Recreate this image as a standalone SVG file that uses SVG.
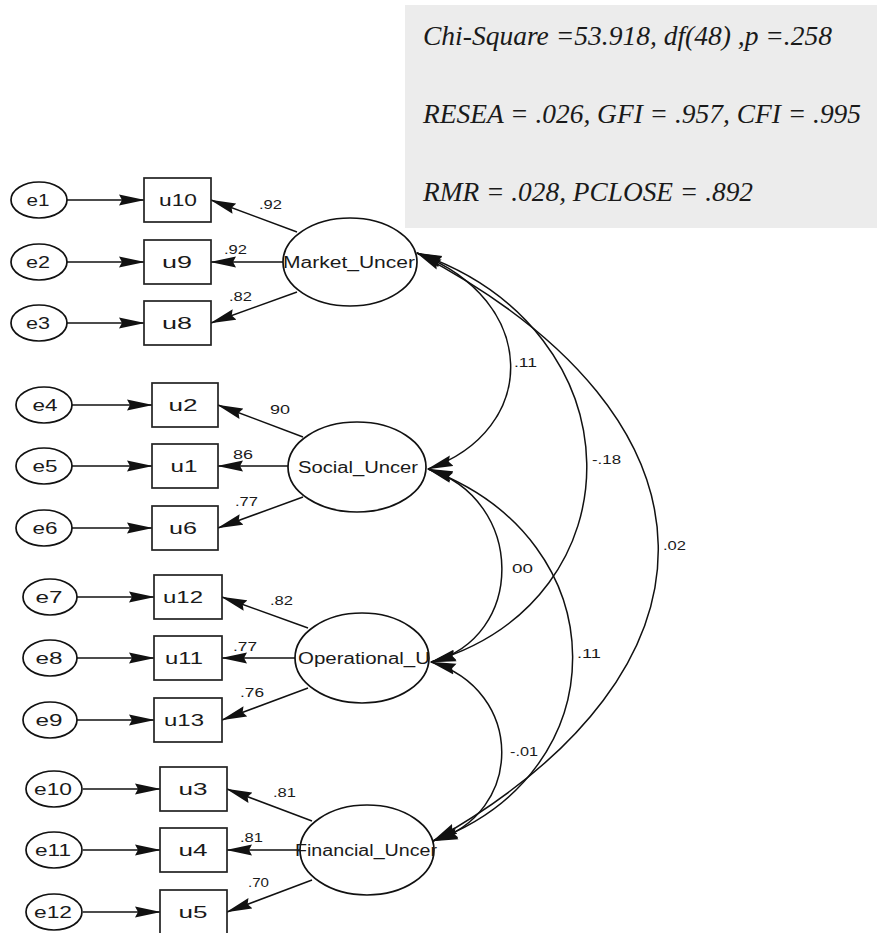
<svg xmlns="http://www.w3.org/2000/svg" width="877" height="933" viewBox="0 0 877 933">
  <style>
    .lat { fill: #ffffff; stroke: #111; stroke-width: 1.7; }
    .err { fill: #ffffff; stroke: #111; stroke-width: 1.7; }
    .obs { fill: #ffffff; stroke: #222; stroke-width: 1.7; }
    .lbl { font-family: "Liberation Sans", Arial, sans-serif; font-size: 17px; fill: #1a1a1a; text-anchor: middle; }
    .lat-lbl { font-family: "Liberation Sans", Arial, sans-serif; font-size: 16px; fill: #1a1a1a; text-anchor: middle; }
    .coef { font-family: "Liberation Sans", Arial, sans-serif; font-size: 13px; fill: #1a1a1a; }
    .fit { font-family: "Liberation Serif", "Times New Roman", serif; font-style: italic; font-size: 28px; fill: #1a1a1a; }
    .path { fill: none; stroke: #111; stroke-width: 1.5; marker-end: url(#ah); }
    .cov { fill: none; stroke: #111; stroke-width: 1.5; marker-start: url(#ah); marker-end: url(#ah); }
  </style>
  <defs>
    <marker id="ah" viewBox="0 0 26 12" refX="25" refY="6" markerWidth="26" markerHeight="12" markerUnits="userSpaceOnUse" orient="auto-start-reverse">
      <path d="M0,0.5 L26,6 L0,11.5 L3,6 z" fill="#111"/>
    </marker>
  </defs>

  <rect width="877" height="933" fill="#ffffff"/>

  <!-- fit statistics panel -->
  <g id="fit-panel">
    <rect x="405" y="5" width="472" height="223" fill="#ececec"/>
    <text class="fit" x="423" y="45" textLength="409" lengthAdjust="spacingAndGlyphs">Chi-Square =53.918, df(48) ,p =.258</text>
    <text class="fit" x="423" y="123" textLength="438" lengthAdjust="spacingAndGlyphs">RESEA = .026, GFI = .957, CFI = .995</text>
    <text class="fit" x="423" y="201" textLength="330" lengthAdjust="spacingAndGlyphs">RMR = .028, PCLOSE = .892</text>
  </g>

  <!-- connectors: error terms, loadings, covariances -->
  <g id="connectors">
    <!-- error -> indicator -->
    <line class="path" x1="67" y1="200" x2="144" y2="200"/>
    <line class="path" x1="67" y1="262" x2="144" y2="262"/>
    <line class="path" x1="67" y1="323" x2="144" y2="323"/>
    <line class="path" x1="72" y1="405" x2="152" y2="405"/>
    <line class="path" x1="72" y1="466" x2="152" y2="466"/>
    <line class="path" x1="72" y1="528" x2="152" y2="528"/>
    <line class="path" x1="77" y1="597" x2="154" y2="597"/>
    <line class="path" x1="77" y1="658" x2="154" y2="658"/>
    <line class="path" x1="77" y1="720" x2="154" y2="720"/>
    <line class="path" x1="83" y1="789" x2="160" y2="789"/>
    <line class="path" x1="83" y1="850" x2="160" y2="850"/>
    <line class="path" x1="83" y1="912" x2="160" y2="912"/>

    <!-- latent -> indicator -->
    <line class="path" x1="297" y1="232" x2="211" y2="200"/>
    <line class="path" x1="283" y1="262" x2="211" y2="262"/>
    <line class="path" x1="297" y1="292" x2="211" y2="323"/>
    <line class="path" x1="303" y1="437" x2="218" y2="405"/>
    <line class="path" x1="288" y1="466" x2="218" y2="466"/>
    <line class="path" x1="303" y1="497" x2="218" y2="528"/>
    <line class="path" x1="308" y1="628" x2="222" y2="597"/>
    <line class="path" x1="295" y1="658" x2="222" y2="658"/>
    <line class="path" x1="308" y1="688" x2="222" y2="720"/>
    <line class="path" x1="312" y1="821" x2="227" y2="789"/>
    <line class="path" x1="300" y1="850" x2="227" y2="850"/>
    <line class="path" x1="312" y1="880" x2="227" y2="912"/>

    <!-- covariances between latent factors -->
    <path class="cov" d="M417,253 C540,300 540,430 428,469"/>
    <path class="cov" d="M417,253 C641,330 641,600 431,662"/>
    <path class="cov" d="M417,253 C736,420 736,670 433,841"/>
    <path class="cov" d="M428,469 C526,500 526,638 431,662"/>
    <path class="cov" d="M428,469 C620,540 620,773 433,841"/>
    <path class="cov" d="M431,662 C525,690 525,814 433,841"/>
  </g>

  <!-- coefficient labels -->
  <g id="coefficients">
    <text class="coef" x="259" y="209" textLength="23" lengthAdjust="spacingAndGlyphs">.92</text>
    <text class="coef" x="224" y="254" textLength="23" lengthAdjust="spacingAndGlyphs">.92</text>
    <text class="coef" x="229" y="301" textLength="23" lengthAdjust="spacingAndGlyphs">.82</text>
    <text class="coef" x="270" y="414" textLength="20" lengthAdjust="spacingAndGlyphs">90</text>
    <text class="coef" x="233" y="459" textLength="20" lengthAdjust="spacingAndGlyphs">86</text>
    <text class="coef" x="235" y="506" textLength="23" lengthAdjust="spacingAndGlyphs">.77</text>
    <text class="coef" x="270" y="605" textLength="23" lengthAdjust="spacingAndGlyphs">.82</text>
    <text class="coef" x="233" y="651" textLength="24" lengthAdjust="spacingAndGlyphs">.77</text>
    <text class="coef" x="240" y="697" textLength="24" lengthAdjust="spacingAndGlyphs">.76</text>
    <text class="coef" x="273" y="797" textLength="23" lengthAdjust="spacingAndGlyphs">.81</text>
    <text class="coef" x="240" y="842" textLength="23" lengthAdjust="spacingAndGlyphs">.81</text>
    <text class="coef" x="248" y="887" textLength="21" lengthAdjust="spacingAndGlyphs">.70</text>
    <text class="coef" x="514" y="367" textLength="23" lengthAdjust="spacingAndGlyphs">.11</text>
    <text class="coef" x="592" y="464" textLength="29" lengthAdjust="spacingAndGlyphs">-.18</text>
    <text class="coef" x="663" y="550" textLength="23" lengthAdjust="spacingAndGlyphs">.02</text>
    <text class="coef" x="512" y="573" textLength="21" lengthAdjust="spacingAndGlyphs">00</text>
    <text class="coef" x="577" y="658" textLength="24" lengthAdjust="spacingAndGlyphs">.11</text>
    <text class="coef" x="510" y="756" textLength="28" lengthAdjust="spacingAndGlyphs">-.01</text>
  </g>

  <!-- Market_Uncer block -->
  <g id="e1"><ellipse class="err" cx="39" cy="200" rx="28" ry="18"/><text class="lbl" x="38" y="206" textLength="23" lengthAdjust="spacingAndGlyphs">e1</text></g>
  <g id="e2"><ellipse class="err" cx="39" cy="262" rx="28" ry="18"/><text class="lbl" x="38" y="268" textLength="24" lengthAdjust="spacingAndGlyphs">e2</text></g>
  <g id="e3"><ellipse class="err" cx="39" cy="323" rx="28" ry="18"/><text class="lbl" x="38" y="329" textLength="24" lengthAdjust="spacingAndGlyphs">e3</text></g>
  <g id="u10"><rect class="obs" x="144" y="178" width="67" height="44"/><text class="lbl" x="178" y="206" textLength="38" lengthAdjust="spacingAndGlyphs">u10</text></g>
  <g id="u9"><rect class="obs" x="144" y="240" width="67" height="44"/><text class="lbl" x="177" y="268" textLength="30" lengthAdjust="spacingAndGlyphs">u9</text></g>
  <g id="u8"><rect class="obs" x="144" y="301" width="67" height="44"/><text class="lbl" x="177" y="329" textLength="30" lengthAdjust="spacingAndGlyphs">u8</text></g>
  <g id="Market_Uncer"><ellipse class="lat" cx="350" cy="262" rx="67" ry="44"/><text class="lat-lbl" x="349" y="268" textLength="132" lengthAdjust="spacingAndGlyphs">Market_Uncer</text></g>

  <!-- Social_Uncer block -->
  <g id="e4"><ellipse class="err" cx="44" cy="405" rx="28" ry="18"/><text class="lbl" x="45" y="411" textLength="25" lengthAdjust="spacingAndGlyphs">e4</text></g>
  <g id="e5"><ellipse class="err" cx="44" cy="466" rx="28" ry="18"/><text class="lbl" x="45" y="472" textLength="25" lengthAdjust="spacingAndGlyphs">e5</text></g>
  <g id="e6"><ellipse class="err" cx="44" cy="528" rx="28" ry="18"/><text class="lbl" x="45" y="534" textLength="25" lengthAdjust="spacingAndGlyphs">e6</text></g>
  <g id="u2"><rect class="obs" x="152" y="383" width="66" height="44"/><text class="lbl" x="183" y="411" textLength="29" lengthAdjust="spacingAndGlyphs">u2</text></g>
  <g id="u1"><rect class="obs" x="152" y="444" width="66" height="44"/><text class="lbl" x="184" y="472" textLength="27" lengthAdjust="spacingAndGlyphs">u1</text></g>
  <g id="u6"><rect class="obs" x="152" y="506" width="66" height="44"/><text class="lbl" x="183" y="534" textLength="28" lengthAdjust="spacingAndGlyphs">u6</text></g>
  <g id="Social_Uncer"><ellipse class="lat" cx="357" cy="467" rx="69" ry="45"/><text class="lat-lbl" x="358" y="473" textLength="120" lengthAdjust="spacingAndGlyphs">Social_Uncer</text></g>

  <!-- Operational_U block -->
  <g id="e7"><ellipse class="err" cx="50" cy="597" rx="27" ry="18"/><text class="lbl" x="49" y="603" textLength="27" lengthAdjust="spacingAndGlyphs">e7</text></g>
  <g id="e8"><ellipse class="err" cx="50" cy="658" rx="27" ry="18"/><text class="lbl" x="49" y="664" textLength="27" lengthAdjust="spacingAndGlyphs">e8</text></g>
  <g id="e9"><ellipse class="err" cx="50" cy="720" rx="27" ry="18"/><text class="lbl" x="49" y="726" textLength="27" lengthAdjust="spacingAndGlyphs">e9</text></g>
  <g id="u12"><rect class="obs" x="154" y="575" width="68" height="44"/><text class="lbl" x="183" y="603" textLength="40" lengthAdjust="spacingAndGlyphs">u12</text></g>
  <g id="u11"><rect class="obs" x="154" y="636" width="68" height="44"/><text class="lbl" x="184" y="664" textLength="38" lengthAdjust="spacingAndGlyphs">u11</text></g>
  <g id="u13"><rect class="obs" x="154" y="698" width="68" height="44"/><text class="lbl" x="184" y="726" textLength="40" lengthAdjust="spacingAndGlyphs">u13</text></g>
  <g id="Operational_U"><ellipse class="lat" cx="362" cy="658" rx="67" ry="45"/><text class="lat-lbl" x="364" y="664" textLength="132" lengthAdjust="spacingAndGlyphs">Operational_U</text></g>

  <!-- Financial_Uncer block -->
  <g id="e10"><ellipse class="err" cx="54" cy="789" rx="28" ry="18"/><text class="lbl" x="53" y="795" textLength="38" lengthAdjust="spacingAndGlyphs">e10</text></g>
  <g id="e11"><ellipse class="err" cx="54" cy="850" rx="28" ry="18"/><text class="lbl" x="53" y="856" textLength="36" lengthAdjust="spacingAndGlyphs">e11</text></g>
  <g id="e12"><ellipse class="err" cx="54" cy="912" rx="28" ry="18"/><text class="lbl" x="53" y="918" textLength="38" lengthAdjust="spacingAndGlyphs">e12</text></g>
  <g id="u3"><rect class="obs" x="160" y="767" width="67" height="44"/><text class="lbl" x="193" y="795" textLength="29" lengthAdjust="spacingAndGlyphs">u3</text></g>
  <g id="u4"><rect class="obs" x="160" y="828" width="67" height="44"/><text class="lbl" x="193" y="856" textLength="29" lengthAdjust="spacingAndGlyphs">u4</text></g>
  <g id="u5"><rect class="obs" x="160" y="890" width="67" height="44"/><text class="lbl" x="193" y="918" textLength="29" lengthAdjust="spacingAndGlyphs">u5</text></g>
  <g id="Financial_Uncer"><ellipse class="lat" cx="367" cy="850" rx="67" ry="45"/><text class="lat-lbl" x="366" y="856" textLength="142" lengthAdjust="spacingAndGlyphs">Financial_Uncer</text></g>
</svg>
